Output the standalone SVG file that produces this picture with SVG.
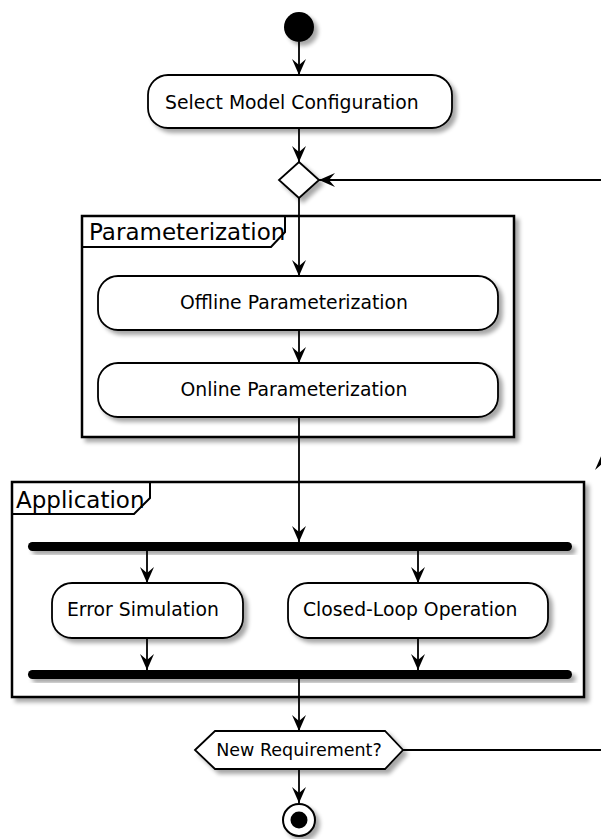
<svg xmlns="http://www.w3.org/2000/svg" width="601" height="839" viewBox="0 0 601 839">
<style>
.bg{fill:#fff}
.frame{fill:#fff;stroke:#000;stroke-width:2.5}
.tab{fill:none;stroke:#000;stroke-width:2}
.ftitle{font-family:"DejaVu Sans",sans-serif;font-size:23px;fill:#000}
.act{fill:#fff;stroke:#000;stroke-width:1.8}
.txt{font-family:"DejaVu Sans",sans-serif;font-size:18.8px;fill:#000}
.htxt{font-family:"DejaVu Sans",sans-serif;font-size:17.5px;fill:#000}
.line{fill:none;stroke:#000;stroke-width:1.8}
.bar{fill:#000}
</style>
<defs>
<filter id="sh" x="-20%" y="-20%" width="150%" height="160%">
<feGaussianBlur in="SourceAlpha" stdDeviation="2"/>
<feOffset dx="4" dy="4" result="o"/>
<feComponentTransfer><feFuncA type="linear" slope="0.35"/></feComponentTransfer>
<feMerge><feMergeNode/><feMergeNode in="SourceGraphic"/></feMerge>
</filter>
<marker id="ar" viewBox="0 0 16 14" refX="16" refY="7" markerWidth="16" markerHeight="14" markerUnits="userSpaceOnUse" orient="auto">
<path d="M0,0 L16,7 L0,14 L6,7 Z" fill="#000"/>
</marker>
</defs>
<rect class="bg" x="0" y="0" width="601" height="839"/>

<g id="frame-parameterization">
<rect class="frame" x="82" y="216" width="432" height="221" filter="url(#sh)"/>
<path class="tab" d="M82,247 H271 L285,232 V216"/>
<text class="ftitle" x="89" y="240">Parameterization</text>
</g>

<g id="frame-application">
<rect class="frame" x="12" y="482" width="572" height="215" filter="url(#sh)"/>
<path class="tab" d="M12,514 H134 L150,498 V482"/>
<text class="ftitle" x="16" y="508">Application</text>
</g>

<g id="connectors">
<line class="line" x1="299" y1="42" x2="299" y2="75" marker-end="url(#ar)"/>
<line class="line" x1="299" y1="128" x2="299" y2="162" marker-end="url(#ar)"/>
<line class="line" x1="299" y1="198" x2="299" y2="276" marker-end="url(#ar)"/>
<line class="line" x1="299" y1="330" x2="299" y2="363" marker-end="url(#ar)"/>
<line class="line" x1="299" y1="417" x2="299" y2="542" marker-end="url(#ar)"/>
<line class="line" x1="147" y1="551" x2="147" y2="583" marker-end="url(#ar)"/>
<line class="line" x1="418" y1="551" x2="418" y2="583" marker-end="url(#ar)"/>
<line class="line" x1="147" y1="638" x2="147" y2="670" marker-end="url(#ar)"/>
<line class="line" x1="418" y1="638" x2="418" y2="670" marker-end="url(#ar)"/>
<line class="line" x1="299" y1="679" x2="299" y2="731" marker-end="url(#ar)"/>
<line class="line" x1="299" y1="769" x2="299" y2="803" marker-end="url(#ar)"/>
<path class="line" d="M403,750 H602 V180 H319" marker-end="url(#ar)"/>
<path d="M602,454 L609,470 L602,464 L595,470 Z" fill="#000"/>
</g>

<g id="start">
<circle cx="299" cy="27" r="15" fill="#000" filter="url(#sh)"/>
</g>

<g id="select-model">
<rect class="act" x="148" y="75" width="304" height="53" rx="20" filter="url(#sh)"/>
<text class="txt" x="165" y="109">Select Model Configuration</text>
</g>

<g id="merge">
<polygon class="act" points="299,162 319,180 299,198 279,180" filter="url(#sh)"/>
</g>

<g id="offline">
<rect class="act" x="98" y="276" width="400" height="54" rx="20" filter="url(#sh)"/>
<text class="txt" x="294" y="309" text-anchor="middle">Offline Parameterization</text>
</g>

<g id="online">
<rect class="act" x="98" y="363" width="400" height="54" rx="20" filter="url(#sh)"/>
<text class="txt" x="294" y="396" text-anchor="middle">Online Parameterization</text>
</g>

<g id="fork">
<rect class="bar" x="28" y="542" width="544" height="9" rx="4.5" filter="url(#sh)"/>
</g>

<g id="error-simulation">
<rect class="act" x="52" y="583" width="191" height="55" rx="20" filter="url(#sh)"/>
<text class="txt" x="67" y="616">Error Simulation</text>
</g>

<g id="closed-loop">
<rect class="act" x="288" y="583" width="260" height="55" rx="20" filter="url(#sh)"/>
<text class="txt" x="303" y="616">Closed-Loop Operation</text>
</g>

<g id="join">
<rect class="bar" x="28" y="670" width="544" height="9" rx="4.5" filter="url(#sh)"/>
</g>

<g id="new-requirement">
<polygon class="act" points="195,750 215,731 385,731 403,750 385,769 215,769" filter="url(#sh)"/>
<text class="htxt" x="299" y="756" text-anchor="middle">New Requirement?</text>
</g>

<g id="end">
<circle cx="299" cy="820" r="16" fill="#fff" stroke="#000" stroke-width="2" filter="url(#sh)"/>
<circle cx="299" cy="820" r="8.5" fill="#000"/>
</g>
</svg>
